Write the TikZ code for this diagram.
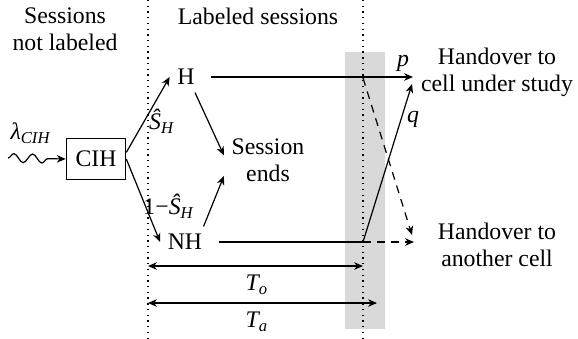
\documentclass[tikz,border=0pt]{standalone}
\usepackage{fontspec}
\setmainfont{Liberation Serif}
\usetikzlibrary{arrows.meta,decorations.pathmorphing,calc}
\begin{document}
\begin{tikzpicture}[x=0.4545pt,y=-0.4545pt,
  every node/.style={font=\rmfamily\fontsize{10.8}{12.2}\selectfont},
  conn/.style={line width=0.55pt,-{Stealth[length=4pt,width=3.4pt,inset=1.2pt]}},
  dconn/.style={conn,dash pattern=on 3.6pt off 2.8pt},
  dim/.style={line width=0.55pt,{Stealth[length=4pt,width=3.4pt,inset=1.2pt]}-{Stealth[length=4pt,width=3.4pt,inset=1.2pt]}},
  sep/.style={line width=0.6pt,dotted},
  lbl/.style={inner sep=1pt}]
\useasboundingbox (0,0) rectangle (578,339);
% gray band
\fill[gray!30] (345,52) rectangle (385,329);
% dotted separators
\draw[sep] (148,0) -- (148,339);
\draw[sep] (363,0) -- (363,339);
% headers
\node[align=center] (hdr1) at (65,29) {Sessions\\not labeled};
\node (hdr2) at (258,16) {Labeled sessions};
% nodes
\node[draw,line width=0.55pt,minimum width=27pt,minimum height=18.6pt,inner sep=1pt] (CIH) at (96,159) {CIH};
\node (H) at (186,77) {H};
\node (NH) at (185,242) {NH};
\node[align=center] (SE) at (268,160) {Session\\ends};
\node[align=center] (HS) at (497,72) {Handover to\\cell under study};
\node[align=center] (HA) at (497,245) {Handover to\\another cell};
% coordinates
\coordinate (src) at (8,158);
\coordinate (X1) at (363,78);
\coordinate (X2) at (363,242);
\coordinate (pE) at (413,77);
\coordinate (qE) at (412,84);
\coordinate (dE) at (412,235);
\coordinate (nE) at (414,242);
\coordinate (L1) at (148,266);
\coordinate (R1) at (363,266);
\coordinate (L2) at (148,303);
\coordinate (R2) at (377,303);
% arrival
\draw[conn,decorate,decoration={snake,amplitude=2pt,segment length=8.5pt,post length=4pt}] (src) -- (CIH.west);
\node[lbl] (lam) at (31,133) {\textit{λ}\textsubscript{\textit{CIH}}};
% branches
\draw[conn] ([yshift=3pt]CIH.east) -- (H.west);
\draw[conn] (CIH.east) -- (NH.west);
\node[lbl] (sH) at (162,121) {\textit{Ŝ}\textsubscript{\textit{H}}};
\node[lbl] (sNH) at (169,206) {1−\textit{Ŝ}\textsubscript{\textit{H}}};
\draw[conn] (H.-60) -- (SE.174);
\draw[conn] (NH.40) -- (SE.200);
% handovers
\draw[conn,shorten <=4pt] (H.east) -- (pE);
\node[lbl] (plab) at (403,63) {\textit{p}};
\draw[line width=0.55pt,shorten <=4pt] (NH.east) -- (X2);
\draw[dconn] (X2) -- (nE);
\draw[dconn] (X1) -- (dE);
\draw[conn] (X2) -- (qE);
\node[lbl] (qlab) at (413,119) {\textit{q}};
% times
\draw[dim] (L1) -- (R1);
\node (To) at (257,285) {\textit{T\textsubscript{o}}};
\draw[dim] (L2) -- (R2);
\node (Ta) at (257,322) {\textit{T\textsubscript{a}}};
\end{tikzpicture}
\end{document}
